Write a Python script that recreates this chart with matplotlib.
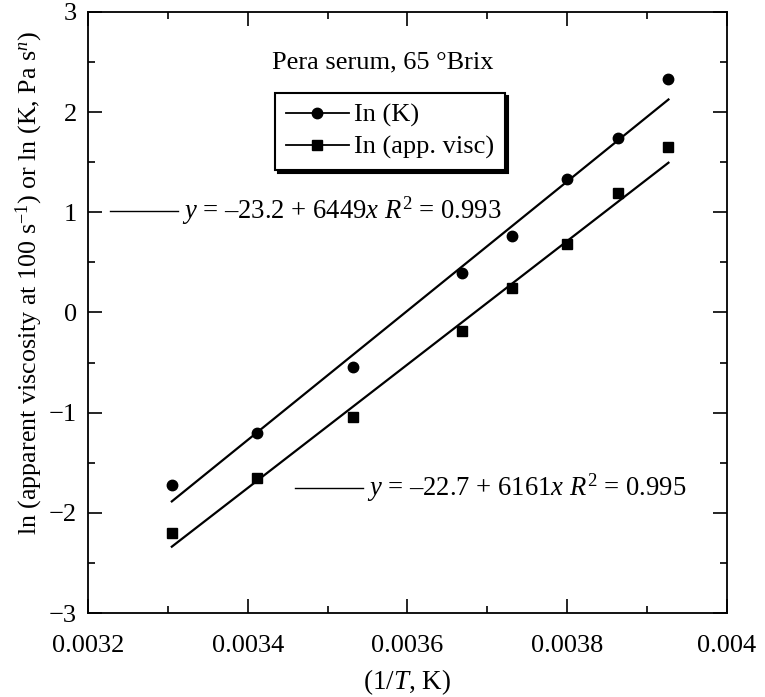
import matplotlib
matplotlib.use("Agg")
import matplotlib.pyplot as plt
import numpy as np
from matplotlib.lines import Line2D
from matplotlib.ticker import MultipleLocator

plt.rcParams['font.family'] = ['Liberation Serif', 'DejaVu Serif']
plt.rcParams['mathtext.fontset'] = 'custom'
plt.rcParams['mathtext.rm'] = 'Liberation Serif'
plt.rcParams['mathtext.it'] = 'Liberation Serif:italic'
plt.rcParams['mathtext.bf'] = 'Liberation Serif:bold'

# 1/T values (1/K)
inv_t = [0.003305, 0.003412, 0.003532, 0.003668, 0.003731, 0.003800, 0.003864, 0.003927]
# ln(K)
ln_k = [-1.72, -1.20, -0.54, 0.39, 0.76, 1.33, 1.74, 2.33]
# ln(apparent viscosity)
ln_visc = [-2.20, -1.65, -1.04, -0.19, 0.24, 0.68, 1.19, 1.65]

# regression lines given on the chart
fit_k = (-23.2, 6449)
fit_visc = (-22.7, 6161)

xticks = [0.0032, 0.0034, 0.0036, 0.0038, 0.004]
xticklabels = ['0.0032', '0.0034', '0.0036', '0.0038', '0.004']
yticks = [-3, -2, -1, 0, 1, 2, 3]

fig = plt.figure(figsize=(7.65, 6.97), dpi=100)
ax = fig.add_axes([0.115, 0.1205, 0.835, 0.8625])

xs = np.array([inv_t[0], inv_t[-1]])
ax.plot(xs, fit_k[0] + fit_k[1] * xs, color='black', lw=1.6)
ax.plot(xs, fit_visc[0] + fit_visc[1] * xs, color='black', lw=1.6)
ax.plot(inv_t, ln_k, 'o', color='black', ms=7.5, ls='none')
ax.plot(inv_t, ln_visc, 's', color='black', ms=7.5, ls='none')

ax.set_xlim(0.0032, 0.004)
ax.set_ylim(-3, 3)
ax.set_xticks(xticks)
ax.set_xticklabels(xticklabels)
ax.set_yticks(yticks)
ax.xaxis.set_minor_locator(MultipleLocator(0.0001))
ax.yaxis.set_minor_locator(MultipleLocator(0.5))
ax.tick_params(which='both', direction='in', top=True, right=True, labelsize=19, width=1.2)
ax.tick_params(which='major', length=10, pad=8)
ax.tick_params(which='minor', length=5)
ax.tick_params(axis='x', which='major', pad=16)
for s in ax.spines.values():
    s.set_linewidth(1.3)

ax.set_xlabel(r'(1/$T$, K)', fontsize=19.5, labelpad=7)
ax.set_ylabel(r'ln (apparent viscosity at 100 s$^{-1}$) or ln (K, Pa s$^{n}$)', fontsize=18.7)
ax.yaxis.set_label_coords(-0.068, 0.549)

ax.text(0.462, 0.915, 'Pera serum, 65 °Brix', transform=ax.transAxes,
        ha='center', va='center', fontsize=19)

handles = [Line2D([], [], color='black', marker='o', ms=7.5, lw=1.3),
           Line2D([], [], color='black', marker='s', ms=7.5, lw=1.3)]
leg = ax.legend(handles, ['In (K)', 'In (app. visc)'], loc='upper left',
                bbox_to_anchor=(0.293, 0.865), borderaxespad=0, fontsize=19, numpoints=1,
                handlelength=2.4, handletextpad=0.2, fancybox=False,
                edgecolor='black', framealpha=1, borderpad=0.4, labelspacing=0.3,
                shadow={'color': 'black', 'alpha': 1})
leg.get_frame().set_linewidth(1.5)

ax.plot([0.034, 0.141], [0.669, 0.669], transform=ax.transAxes, color='black', lw=1.0, clip_on=False)
ax.text(0.147, 0.669, r'$y$ = –23.2 + 6449$x$ $R^2$ = 0.993', transform=ax.transAxes,
        ha='left', va='center', fontsize=19.2)
ax.plot([0.324, 0.430], [0.208, 0.208], transform=ax.transAxes, color='black', lw=1.0)
ax.text(0.437, 0.208, r'$y$ = –22.7 + 6161$x$ $R^2$ = 0.995', transform=ax.transAxes,
        ha='left', va='center', fontsize=19.2)

fig.savefig('out.png', dpi=100)
